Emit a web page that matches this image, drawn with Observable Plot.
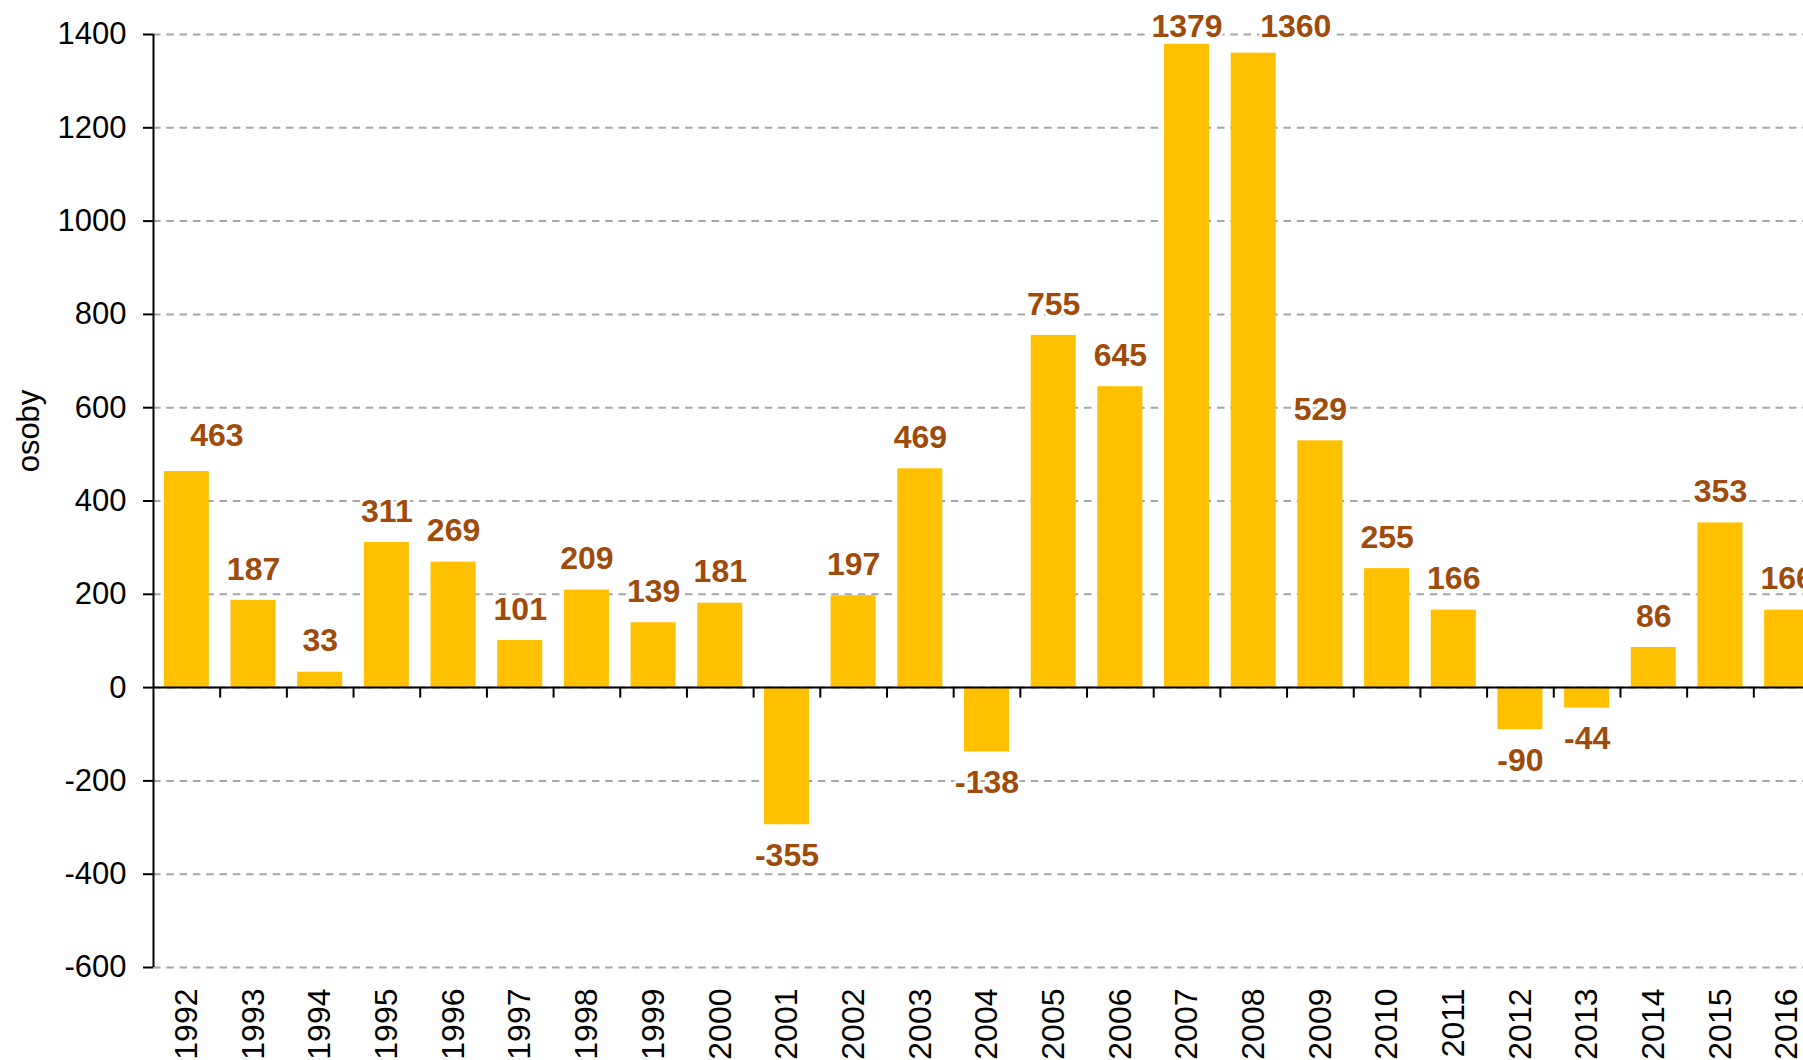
<!DOCTYPE html>
<html>
<head>
<meta charset="utf-8">
<script src="https://cdn.jsdelivr.net/npm/d3@7"></script>
<script src="https://cdn.jsdelivr.net/npm/@observablehq/plot@0.6"></script>
<style>
  html, body { margin: 0; padding: 0; background: #fff; overflow: hidden; }
  #chart svg { display: block; max-width: none !important; height: 1060px !important; }
</style>
</head>
<body>
<div id="chart"></div>
<script>
const years = [1992,1993,1994,1995,1996,1997,1998,1999,2000,2001,2002,2003,2004,2005,2006,2007,2008,2009,2010,2011,2012,2013,2014,2015,2016];
// bar heights as drawn
const values = [463,187,33,311,269,101,209,139,181,-294,197,469,-138,755,645,1379,1360,529,255,166,-90,-44,86,353,166];
// printed data labels
const labels = ["463","187","33","311","269","101","209","139","181","-355","197","469","-138","755","645","1379","1360","529","255","166","-90","-44","86","353","166"];
const yTicks = [-600,-400,-200,0,200,400,600,800,1000,1200,1400];
const axisTitle = "osoby";

const data = years.map((y, i) => ({year: y, value: values[i], label: labels[i], i}));
const boundaries = years.map(y => y + 0.5);
const half = 0.3375;
const yMax = yTicks[yTicks.length - 1];
const nearTop = d => d.value > yMax - 70;   // labels that would leave the frame are pinned to its top
const pinned = data.filter(nearTop);

const tickDown = {
  draw(ctx) { ctx.moveTo(0, 0); ctx.lineTo(0, 10); }
};

const font = "'Liberation Sans', Arial, Helvetica, sans-serif";
const labelStyle = {
  x: "year", text: "label",
  fontSize: 32, fontWeight: "bold", fill: "#9E4B0C",
  stroke: "#fff", strokeWidth: 6, paintOrder: "stroke"
};

const chart = Plot.plot({
  width: 1830,
  height: 1060,
  marginLeft: 153,
  marginRight: 10,
  marginTop: 34,
  marginBottom: 93,
  style: {fontFamily: font, color: "#000", background: "#fff", maxWidth: "none"},
  x: {domain: [years[0] - 0.5, years[years.length - 1] + 0.5]},
  y: {domain: [yTicks[0], yMax]},
  marks: [
    Plot.gridY(yTicks, {stroke: "#a6a6a6", strokeOpacity: 1, strokeWidth: 2, strokeDasharray: "7.5,5.8"}),
    Plot.text(data.filter(d => d.value >= 0 && !nearTop(d) && d.i > 0), {...labelStyle, y: "value", dy: -31}),
    Plot.text(data.filter(d => d.value >= 0 && d.i === 0), {...labelStyle, y: "value", dy: -36, dx: 30}),
    Plot.text(pinned.slice(0, 1), {...labelStyle, frameAnchor: "top", lineAnchor: "middle", dy: -8}),
    Plot.text(pinned.slice(1), {...labelStyle, frameAnchor: "top", lineAnchor: "middle", dy: -8, dx: 42}),
    Plot.text(data.filter(d => d.value < 0), {...labelStyle, y: "value", dy: 31}),
    Plot.rect(data, {x1: d => d.year - half, x2: d => d.year + half, y1: 0, y2: "value", fill: "#FFC000"}),
    Plot.ruleY([0], {stroke: "#000", strokeWidth: 2}),
    Plot.dot(boundaries, {x: d => d, y: 0, symbol: tickDown, stroke: "#000", fill: "none", strokeWidth: 2}),
    Plot.ruleX([years[0] - 0.5], {y1: yTicks[0], y2: yMax, stroke: "#000", strokeWidth: 2}),
    Plot.axisY({ticks: yTicks, tickSize: 10, tickPadding: 17, fontSize: 31, strokeWidth: 2, tickFormat: d => String(d), label: null}),
    Plot.axisX({ticks: years, tickSize: 0, tickRotate: -90, tickPadding: 21, fontSize: 32, tickFormat: d => String(d), label: null}),
    Plot.text([axisTitle], {text: d => d, frameAnchor: "left", textAnchor: "middle", rotate: -90, dx: -124, dy: -70, fontSize: 31, fill: "#000"})
  ]
});
document.getElementById("chart").appendChild(chart);
</script>
</body>
</html>
